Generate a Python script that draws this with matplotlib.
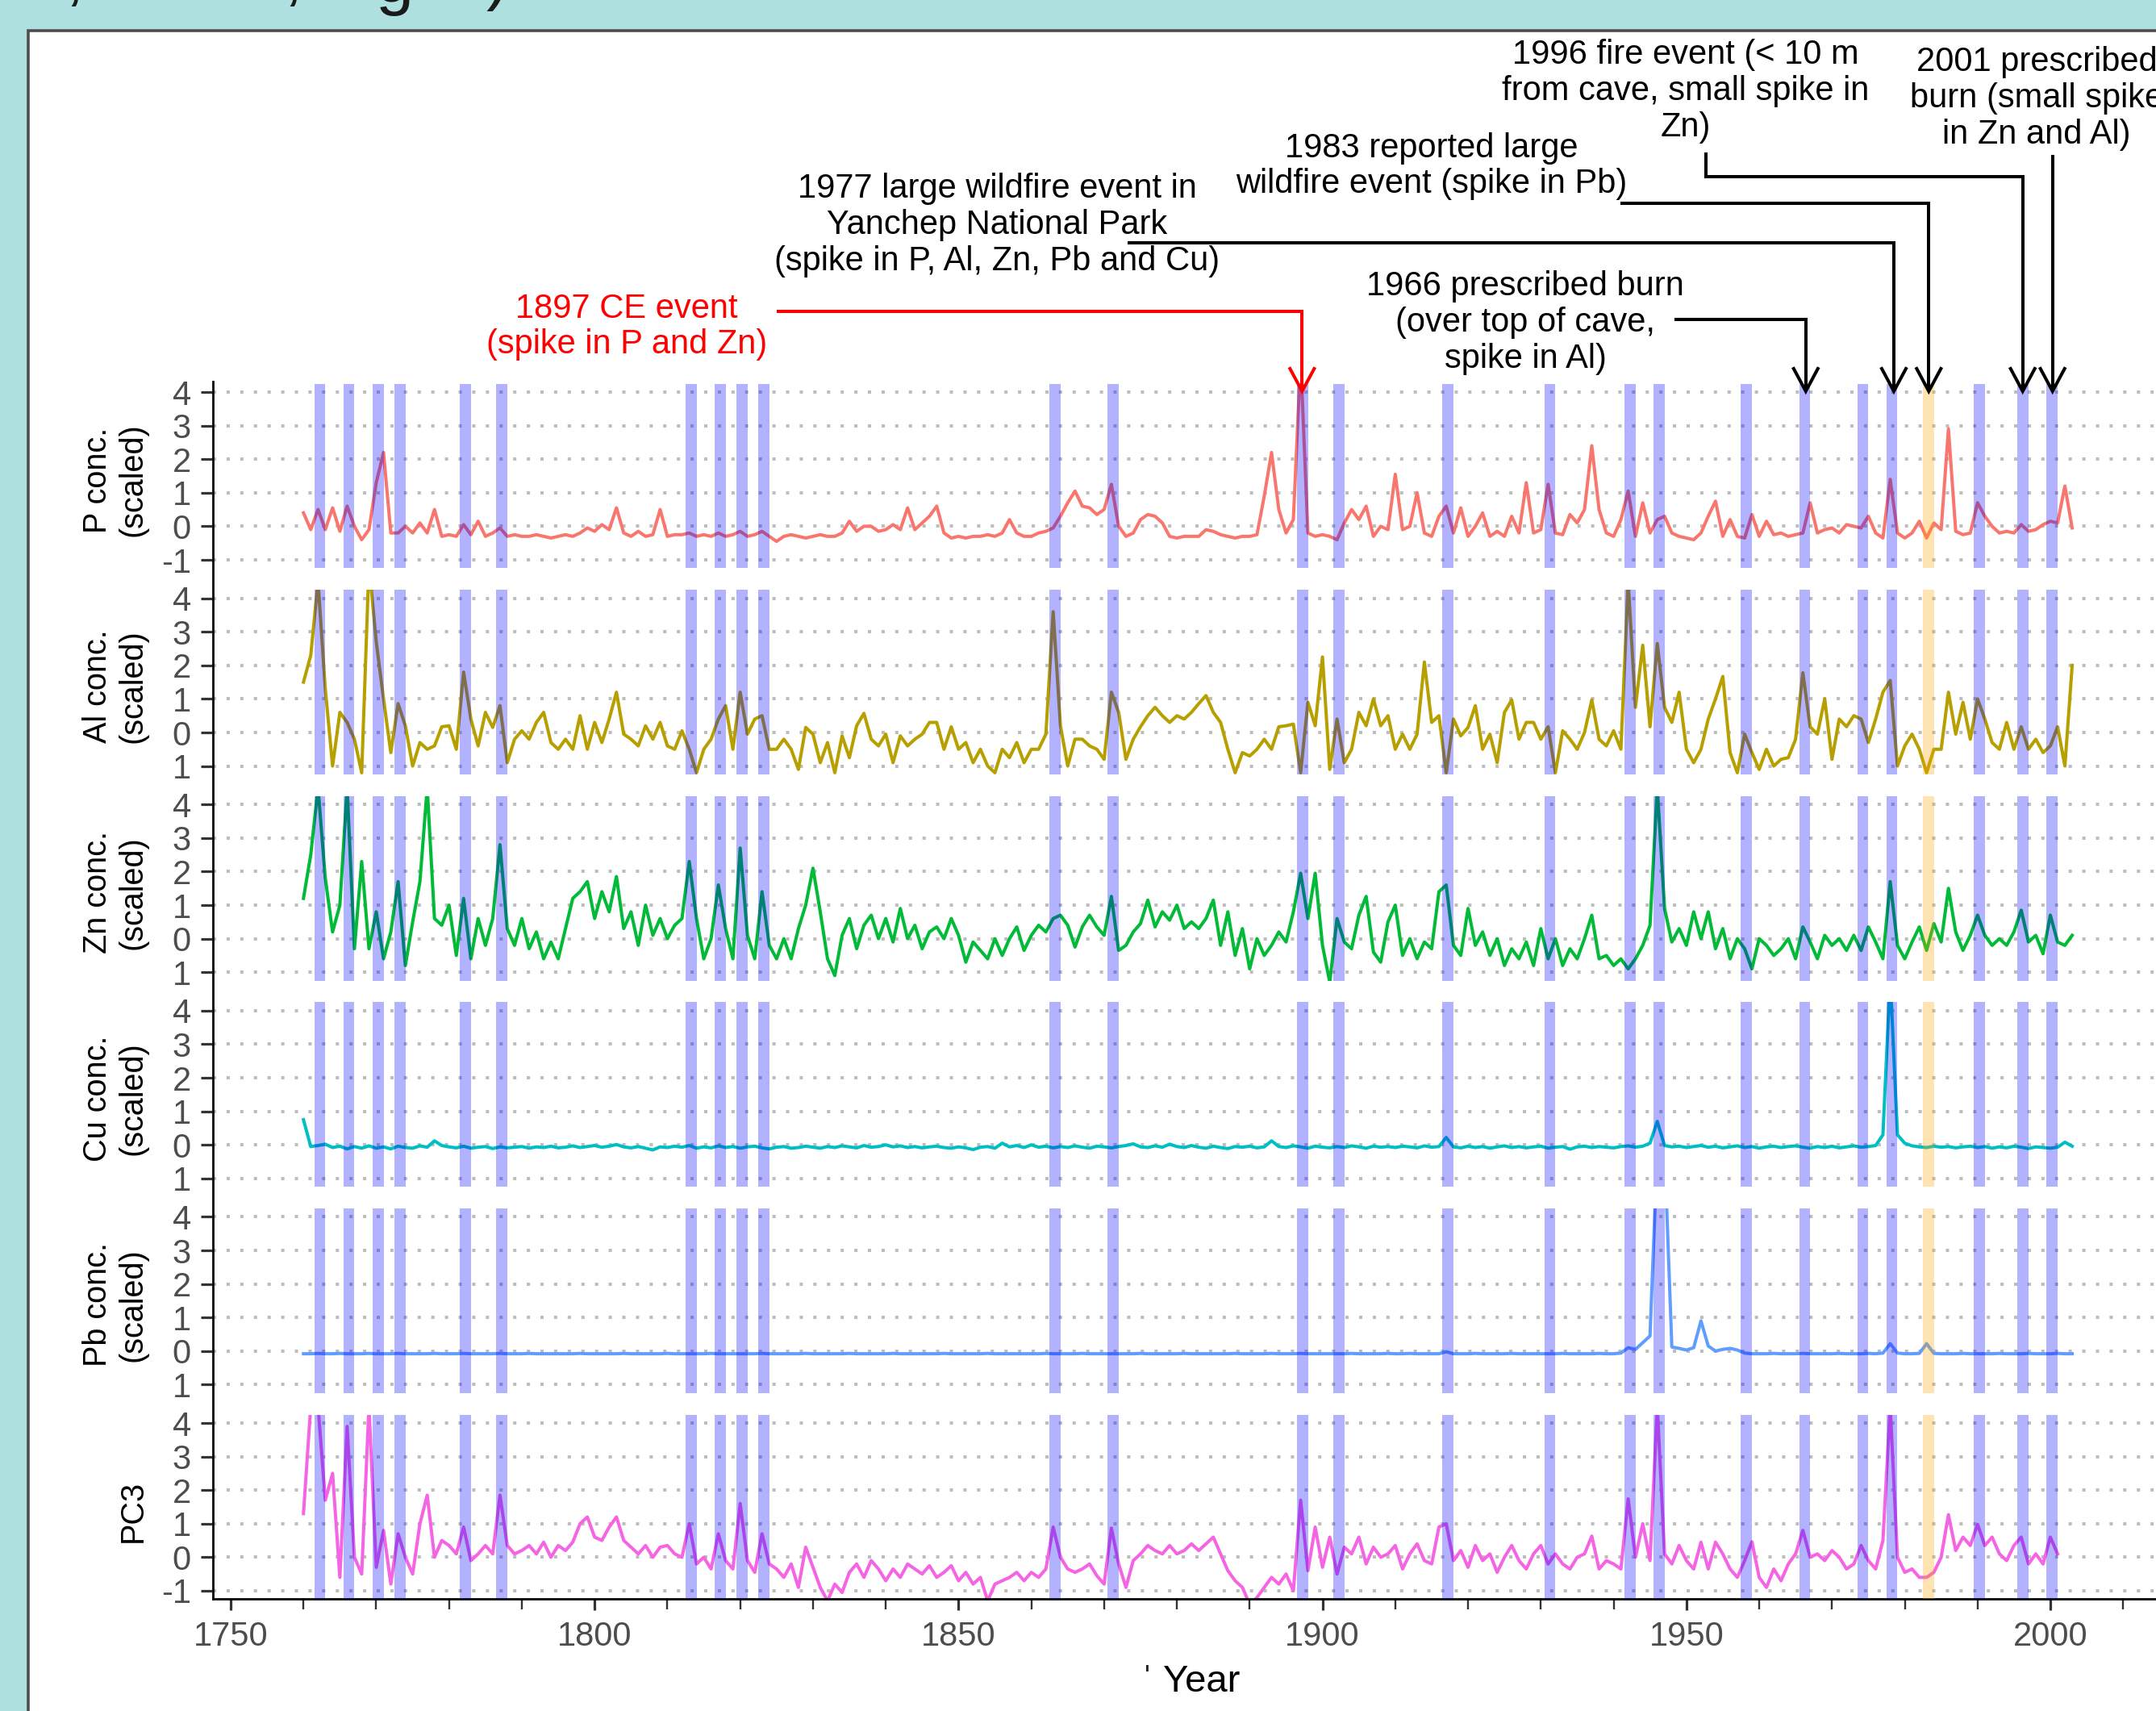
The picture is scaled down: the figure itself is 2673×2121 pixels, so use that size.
import numpy as np
import matplotlib
matplotlib.use("Agg")
import matplotlib.pyplot as plt
from matplotlib.lines import Line2D
from matplotlib.patches import Rectangle
from matplotlib.ticker import MultipleLocator
from matplotlib.transforms import blended_transform_factory

plt.rcParams['font.family'] = ['Liberation Sans', 'DejaVu Sans']

# ---------------- data ----------------
years = list(range(1760, 2004))

p_conc = [
    0.4, -0.1, 0.5, -0.1, 0.55, -0.15, 0.6, 0.0, -0.4, -0.1,
    1.3, 2.2, -0.2, -0.2, 0.0, -0.2, 0.1, -0.2, 0.5, -0.3,
    -0.25, -0.3, 0.05, -0.25, 0.15, -0.3, -0.2, -0.05, -0.3, -0.25,
    -0.3, -0.3, -0.25, -0.3, -0.35, -0.3, -0.25, -0.3, -0.2, -0.05,
    -0.15, 0.05, -0.1, 0.55, -0.2, -0.3, -0.15, -0.3, -0.25, 0.5,
    -0.3, -0.25, -0.25, -0.2, -0.3, -0.25, -0.3, -0.2, -0.3, -0.25,
    -0.15, -0.3, -0.25, -0.15, -0.3, -0.45, -0.3, -0.25, -0.3, -0.35,
    -0.3, -0.25, -0.3, -0.3, -0.2, 0.15, -0.15, 0.0, 0.0, -0.15,
    -0.1, 0.05, -0.1, 0.55, -0.1, 0.1, 0.3, 0.6, -0.2, -0.35,
    -0.3, -0.35, -0.3, -0.3, -0.25, -0.3, -0.2, 0.2, -0.2, -0.3,
    -0.3, -0.2, -0.15, -0.05, 0.3, 0.7, 1.05, 0.6, 0.55, 0.35,
    0.5, 1.25, 0.0, -0.3, -0.2, 0.2, 0.35, 0.3, 0.1, -0.3,
    -0.35, -0.3, -0.3, -0.3, -0.1, -0.15, -0.25, -0.3, -0.35, -0.3,
    -0.3, -0.25, 0.9, 2.2, 0.5, -0.2, 0.2, 5.0, -0.2, -0.3,
    -0.25, -0.3, -0.4, 0.1, 0.5, 0.2, 0.6, -0.3, 0.0, -0.1,
    1.55, -0.1, 0.0, 1.0, -0.2, -0.3, 0.3, 0.6, -0.2, 0.55,
    -0.3, 0.0, 0.4, -0.3, -0.15, -0.3, 0.3, -0.2, 1.3, -0.2,
    -0.1, 1.25, -0.2, -0.25, 0.35, 0.1, 0.5, 2.4, 0.5, -0.2,
    -0.3, 0.2, 1.05, -0.3, 0.7, -0.2, 0.2, 0.3, -0.2, -0.3,
    -0.35, -0.4, -0.2, 0.3, 0.75, -0.3, 0.2, -0.3, -0.35, 0.35,
    -0.3, 0.15, -0.25, -0.2, -0.3, -0.25, -0.2, 0.7, -0.2, -0.1,
    -0.05, -0.2, 0.05, 0.0, -0.05, 0.3, -0.2, -0.35, 1.4, -0.2,
    -0.35, -0.2, 0.15, -0.35, 0.1, -0.1, 2.9, -0.15, -0.25, -0.2,
    0.7, 0.3, 0.0, -0.2, -0.15, -0.2, 0.05, -0.15, -0.1, 0.05,
    0.15, 0.1, 1.2, -0.05,
]

al_conc = [
    1.5, 2.3, 4.5, 1.3, -1.0, 0.6, 0.3, -0.2, -1.2, 5.0,
    2.7, 1.0, -0.6, 0.86, 0.2, -1.0, -0.3, -0.5, -0.4, 0.17,
    0.2, -0.5, 1.8, 0.4, -0.4, 0.6, 0.15, 0.8, -0.9, -0.2,
    0.05, -0.2, 0.3, 0.6, -0.3, -0.5, -0.2, -0.5, 0.5, -0.5,
    0.3, -0.3, 0.4, 1.2, -0.05, -0.2, -0.4, 0.2, -0.2, 0.3,
    -0.4, -0.5, 0.05, -0.5, -1.2, -0.5, -0.2, 0.4, 0.8, -0.5,
    1.2, -0.05, 0.4, 0.5, -0.5, -0.5, -0.2, -0.5, -1.1, 0.15,
    -0.05, -0.9, -0.3, -1.2, -0.1, -0.75, 0.2, 0.57, -0.2, -0.4,
    -0.05, -0.9, -0.1, -0.4, -0.2, -0.05, 0.3, 0.3, -0.5, 0.17,
    -0.5, -0.3, -0.9, -0.5, -1.0, -1.2, -0.5, -0.75, -0.3, -0.9,
    -0.5, -0.5, -0.05, 3.6, 0.2, -1.0, -0.2, -0.2, -0.4, -0.5,
    -0.8, 1.2, 0.6, -0.8, -0.2, 0.17, 0.5, 0.75, 0.5, 0.3,
    0.5, 0.4, 0.6, 0.86, 1.1, 0.6, 0.3, -0.5, -1.2, -0.6,
    -0.7, -0.5, -0.2, -0.5, 0.17, 0.2, 0.25, -1.2, 0.9, 0.2,
    2.25, -1.1, 0.4, -0.9, -0.5, 0.6, 0.2, 1.0, 0.2, 0.5,
    -0.5, -0.05, -0.5, -0.05, 2.1, 0.3, 0.5, -1.2, 0.4, -0.1,
    0.15, 0.8, -0.5, -0.05, -0.9, 0.6, 0.97, -0.2, 0.3, 0.3,
    -0.2, 0.17, -1.2, 0.05, -0.2, -0.5, 0.0, 0.97, -0.2, -0.4,
    0.05, -0.5, 4.5, 0.75, 2.6, 0.17, 2.65, 0.75, 0.3, 1.2,
    -0.5, -0.9, -0.5, 0.4, 1.0, 1.67, -0.6, -1.2, -0.05, -0.6,
    -1.1, -0.5, -1.0, -0.8, -0.75, -0.2, 1.78, 0.17, -0.05, 1.0,
    -0.8, 0.4, 0.17, 0.5, 0.4, -0.3, 0.4, 1.2, 1.55, -1.0,
    -0.4, -0.05, -0.5, -1.2, -0.5, -0.5, 1.2, -0.05, 0.9, -0.2,
    1.0, 0.4, -0.3, -0.5, 0.3, -0.5, 0.17, -0.5, -0.2, -0.6,
    -0.4, 0.17, -1.0, 2.0,
]

zn_conc = [
    1.2, 2.5, 4.5, 1.8, 0.2, 1.0, 4.5, -0.3, 2.3, -0.3,
    0.8, -0.6, 0.2, 1.7, -0.8, 0.5, 1.7, 4.5, 0.6, 0.4,
    1.0, -0.5, 1.2, -0.6, 0.6, -0.2, 0.6, 2.8, 0.3, -0.2,
    0.6, -0.3, 0.2, -0.6, -0.1, -0.6, 0.3, 1.2, 1.4, 1.7,
    0.6, 1.4, 0.8, 1.85, 0.3, 0.8, -0.2, 1.0, 0.1, 0.6,
    0.0, 0.4, 0.6, 2.3, 0.6, -0.6, 0.0, 1.6, 0.3, -0.6,
    2.7, 0.1, -0.6, 1.4, -0.2, -0.6, 0.0, -0.6, 0.3, 1.0,
    2.1, 0.8, -0.6, -1.1, 0.1, 0.6, -0.3, 0.4, 0.7, 0.0,
    0.6, -0.1, 0.9, 0.0, 0.4, -0.3, 0.2, 0.35, 0.0, 0.6,
    0.1, -0.7, -0.1, -0.35, -0.6, 0.0, -0.5, 0.0, 0.35, -0.35,
    0.1, 0.4, 0.2, 0.6, 0.7, 0.4, -0.25, 0.35, 0.7, 0.35,
    0.1, 1.26, -0.35, -0.2, 0.2, 0.45, 1.15, 0.35, 0.8, 0.55,
    1.0, 0.3, 0.5, 0.3, 0.6, 1.15, -0.2, 0.8, -0.5, 0.3,
    -0.9, 0.0, -0.5, -0.2, 0.2, -0.1, 0.8, 1.95, 0.6, 1.95,
    -0.2, -1.3, 0.6, -0.1, -0.3, 0.7, 1.26, -0.4, -0.7, 0.5,
    1.0, -0.5, 0.0, -0.6, -0.1, -0.3, 1.4, 1.6, -0.2, -0.5,
    0.9, -0.2, 0.2, -0.5, 0.0, -0.8, -0.3, -0.6, -0.1, -0.8,
    0.3, -0.6, 0.0, -0.8, -0.3, -0.6, 0.0, 0.7, -0.6, -0.5,
    -0.8, -0.6, -0.9, -0.6, -0.2, 0.4, 4.5, 0.9, -0.1, 0.3,
    -0.2, 0.8, 0.0, 0.8, -0.3, 0.3, -0.6, 0.0, -0.3, -0.9,
    0.0, -0.2, -0.5, -0.3, 0.0, -0.6, 0.35, -0.1, -0.6, 0.1,
    -0.2, 0.0, -0.35, 0.1, -0.35, 0.35, -0.1, -0.6, 1.7, -0.2,
    -0.6, -0.1, 0.35, -0.35, 0.45, -0.1, 1.5, 0.2, -0.35, 0.1,
    0.7, 0.1, -0.2, 0.0, -0.2, 0.2, 0.85, -0.1, 0.1, -0.45,
    0.7, -0.1, -0.2, 0.1,
]

cu_conc = [
    0.75, -0.05, -0.02, 0.02, -0.08, -0.04, -0.12, -0.05, -0.1, -0.03,
    -0.1, -0.06, -0.12, -0.04, -0.08, -0.1, -0.03, -0.07, 0.12, -0.02,
    -0.06, -0.09, -0.04, -0.1, -0.07, -0.05, -0.11, -0.06, -0.09, -0.07,
    -0.05, -0.1, -0.06, -0.08, -0.04, -0.09, -0.07, -0.03, -0.08, -0.05,
    -0.02, -0.07, -0.04, 0.01, -0.06, -0.09, -0.05, -0.1, -0.15, -0.06,
    -0.08, -0.04, -0.07, -0.02, -0.1, -0.06, -0.09, -0.03, -0.08, -0.05,
    -0.1, -0.06, -0.04, -0.09, -0.12, -0.07, -0.05, -0.1, -0.08, -0.04,
    -0.07, -0.1, -0.05, -0.08, -0.03, -0.06, -0.09, -0.02, -0.07, -0.05,
    0.0, -0.06, -0.03, -0.08, -0.05, -0.09, -0.06, -0.04, -0.08, -0.1,
    -0.06, -0.09, -0.14, -0.07, -0.05, -0.1, 0.05, -0.06, -0.02, -0.08,
    0.0, -0.07, -0.04, -0.09, -0.05, -0.08, -0.03, -0.07, -0.1, -0.04,
    -0.06, -0.09, -0.05, -0.02, 0.03, -0.06, -0.08, -0.03, -0.07, 0.02,
    -0.05, -0.08, -0.02, -0.07, -0.1, -0.04, -0.08, -0.11, -0.05, -0.07,
    -0.04, -0.09, -0.06, 0.12, -0.05, -0.08, -0.03, -0.06, -0.1, -0.04,
    -0.07, -0.09, -0.05, -0.08, -0.03, -0.06, -0.1, -0.04, -0.07, -0.05,
    -0.08, -0.04, -0.06, -0.09, -0.03, -0.07, -0.05, 0.22, -0.06, -0.09,
    -0.04, -0.08, -0.05, -0.1, -0.06, -0.03, -0.08, -0.05, -0.09, -0.06,
    -0.04, -0.1, -0.07, -0.05, -0.13, -0.06, -0.04, -0.08, -0.05, -0.07,
    -0.09, -0.05, -0.03, -0.07, -0.04, 0.05, 0.7, -0.02, -0.06, -0.04,
    -0.08, -0.05, -0.02, -0.07, -0.04, -0.09, -0.06, -0.03, -0.08, -0.05,
    -0.1, -0.06, -0.04, -0.08, -0.05, -0.03, -0.07, -0.1, -0.05, -0.08,
    -0.04, -0.09, -0.06, -0.03, -0.07, -0.05, -0.02, 0.3, 5.0, 0.3,
    0.05, -0.03, -0.06, -0.08, -0.04, -0.07, -0.05, -0.09, -0.06, -0.04,
    -0.08, -0.05, -0.1, -0.06, -0.09, -0.04, -0.07, -0.11, -0.06, -0.08,
    -0.1, -0.07, 0.08, -0.04,
]

pb_conc = [
    -0.08, -0.08, -0.07, -0.08, -0.08, -0.07, -0.08, -0.08, -0.08, -0.07,
    -0.08, -0.08, -0.08, -0.07, -0.08, -0.08, -0.08, -0.08, -0.07, -0.08,
    -0.08, -0.08, -0.07, -0.08, -0.08, -0.08, -0.08, -0.07, -0.08, -0.08,
    -0.08, -0.07, -0.08, -0.08, -0.08, -0.08, -0.08, -0.08, -0.07, -0.08,
    -0.08, -0.08, -0.08, -0.08, -0.07, -0.08, -0.08, -0.08, -0.08, -0.08,
    -0.07, -0.08, -0.08, -0.08, -0.08, -0.08, -0.07, -0.08, -0.08, -0.08,
    -0.08, -0.08, -0.08, -0.07, -0.08, -0.08, -0.08, -0.08, -0.08, -0.07,
    -0.08, -0.08, -0.08, -0.08, -0.08, -0.07, -0.08, -0.08, -0.08, -0.08,
    -0.08, -0.07, -0.08, -0.08, -0.08, -0.08, -0.08, -0.08, -0.07, -0.08,
    -0.08, -0.08, -0.08, -0.08, -0.07, -0.08, -0.08, -0.08, -0.08, -0.08,
    -0.08, -0.08, -0.07, -0.08, -0.08, -0.08, -0.08, -0.07, -0.08, -0.08,
    -0.08, -0.08, -0.08, -0.08, -0.08, -0.07, -0.08, -0.08, -0.08, -0.08,
    -0.08, -0.07, -0.08, -0.08, -0.08, -0.08, -0.08, -0.08, -0.07, -0.08,
    -0.08, -0.08, -0.08, -0.07, -0.08, -0.08, -0.08, -0.07, -0.08, -0.08,
    -0.08, -0.08, -0.08, -0.08, -0.07, -0.08, -0.08, -0.08, -0.08, -0.07,
    -0.08, -0.08, -0.07, -0.08, -0.08, -0.08, -0.08, -0.02, -0.08, -0.08,
    -0.08, -0.07, -0.08, -0.08, -0.08, -0.08, -0.07, -0.08, -0.08, -0.08,
    -0.08, -0.08, -0.08, -0.07, -0.08, -0.08, -0.08, -0.08, -0.07, -0.08,
    -0.08, -0.06, 0.1, 0.05, 0.25, 0.45, 6.0, 6.0, 0.12, 0.08,
    0.03, 0.1, 0.9, 0.15, 0.0, 0.05, 0.08, 0.03, -0.06, -0.08,
    -0.08, -0.08, -0.07, -0.08, -0.08, -0.08, -0.07, -0.08, -0.08, -0.08,
    -0.08, -0.07, -0.08, -0.08, -0.08, -0.07, -0.08, -0.06, 0.22, -0.06,
    -0.08, -0.08, -0.07, 0.22, -0.07, -0.08, -0.08, -0.08, -0.07, -0.08,
    -0.08, -0.08, -0.08, -0.07, -0.08, -0.08, -0.08, -0.07, -0.08, -0.08,
    -0.08, -0.07, -0.08, -0.08,
]

pc3 = [
    1.3, 4.5, 4.5, 1.7, 2.5, -0.6, 3.9, 0.0, -0.5, 4.5,
    -0.3, 0.8, -0.8, 0.7, 0.0, -0.5, 1.0, 1.85, 0.0, 0.5,
    0.35, 0.1, 0.9, -0.1, 0.1, 0.35, 0.1, 1.85, 0.35, 0.1,
    0.2, 0.35, 0.1, 0.45, 0.0, 0.35, 0.2, 0.45, 1.0, 1.2,
    0.6, 0.5, 0.9, 1.2, 0.5, 0.3, 0.1, 0.35, 0.0, 0.3,
    0.35, 0.1, 0.0, 1.0, -0.2, 0.0, -0.35, 0.7, -0.1, -0.35,
    1.6, -0.1, -0.45, 0.7, -0.2, -0.35, -0.6, -0.2, -0.9, 0.3,
    -0.3, -0.9, -1.3, -0.8, -1.05, -0.45, -0.2, -0.6, -0.1, -0.35,
    -0.7, -0.35, -0.6, -0.2, -0.35, -0.5, -0.25, -0.6, -0.45, -0.25,
    -0.7, -0.45, -0.8, -0.6, -1.3, -0.8, -0.7, -0.6, -0.45, -0.7,
    -0.45, -0.6, -0.35, 0.9, 0.0, -0.35, -0.45, -0.35, -0.2, -0.55,
    -0.8, 0.87, -0.2, -0.9, -0.1, 0.1, 0.35, 0.2, 0.1, 0.35,
    0.1, 0.2, 0.4, 0.2, 0.4, 0.6, 0.1, -0.4, -0.7, -0.9,
    -1.4, -1.2, -0.9, -0.6, -0.8, -0.5, -1.0, 1.7, -0.4, 0.9,
    -0.3, 0.6, -0.5, 0.3, 0.1, 0.6, -0.2, 0.3, 0.0, 0.1,
    0.35, -0.35, 0.1, 0.4, -0.1, -0.2, 0.9, 1.0, -0.1, 0.2,
    -0.3, 0.35, -0.1, 0.1, -0.45, 0.0, 0.35, -0.1, -0.35, 0.1,
    0.35, -0.2, 0.1, -0.2, -0.35, 0.0, 0.1, 0.63, -0.35, -0.1,
    -0.2, -0.35, 1.74, 0.0, 1.0, -0.1, 4.5, 0.1, -0.2, 0.35,
    -0.1, -0.35, 0.45, -0.35, 0.45, 0.1, -0.35, -0.6, -0.1, 0.46,
    -0.6, -0.9, -0.35, -0.7, -0.2, 0.1, 0.8, 0.0, 0.1, -0.1,
    0.2, 0.0, -0.35, -0.2, 0.35, -0.1, -0.35, 0.5, 4.5, 0.0,
    -0.45, -0.35, -0.6, -0.6, -0.45, 0.0, 1.27, 0.2, 0.6, 0.35,
    0.98, 0.35, 0.6, 0.1, -0.1, 0.35, 0.6, -0.2, 0.1, -0.2,
    0.6, 0.1,
]

event_years = [1762, 1766, 1770, 1773, 1782, 1787, 1813, 1817, 1820, 1823,
               1863, 1871, 1897, 1902, 1917, 1931, 1942, 1946, 1958, 1966,
               1974, 1978, 1990, 1996, 2000]
reported_years = [1983]

panel_series = [p_conc, al_conc, zn_conc, cu_conc, pb_conc, pc3]
panel_labels = ["P conc.\n(scaled)", "Al conc.\n(scaled)", "Zn conc.\n(scaled)",
                "Cu conc.\n(scaled)", "Pb conc.\n(scaled)", "PC3"]
panel_colors = ["#F8766D", "#B79F00", "#00BA38", "#00BFC4", "#619CFF", "#F564E3"]
ytick_vals = [-1, 0, 1, 2, 3, 4]
ytick_text = [["-1", "0", "1", "2", "3", "4"],
              ["1", "0", "1", "2", "3", "4"],
              ["1", "0", "1", "2", "3", "4"],
              ["1", "0", "1", "2", "3", "4"],
              ["1", "0", "1", "2", "3", "4"],
              ["-1", "0", "1", "2", "3", "4"]]
xtick_vals = [1750, 1800, 1850, 1900, 1950, 2000]

# ---------------- layout ----------------
W, H = 2673, 2121
fig = plt.figure(figsize=(W / 100, H / 100), dpi=100, facecolor="#ADE0DF")


def fx(px):
    return px / W


def fy(py):
    return 1 - py / H


# white board with dark border
fig.add_artist(Rectangle((fx(35), fy(2400)), fx(3000), (2400 - 38) / H,
                         transform=fig.transFigure, facecolor="white",
                         edgecolor="#4D4D4D", lw=2.6, zorder=-5))

AX_L, AX_R = 264, 2716
PXY = 9.024
XMIN = 1750 - (286 - AX_L) / PXY
XMAX = XMIN + (AX_R - AX_L) / PXY
TOP0, STEP, PH = 475.6, 255.6, 228.8

axes = []
for i, (vals, lab, col) in enumerate(zip(panel_series, panel_labels, panel_colors)):
    top = TOP0 + i * STEP
    ax = fig.add_axes([fx(AX_L), fy(top + PH), (AX_R - AX_L) / W, PH / H])
    ax.set_facecolor("none")
    ax.set_xlim(XMIN, XMAX)
    ax.set_ylim(-1.25, 4.25)
    for s in ax.spines.values():
        s.set_visible(False)
    ax.set_yticks(ytick_vals)
    ax.set_yticklabels(ytick_text[i])
    ax.tick_params(axis="y", length=10.5, width=2.3, color="#333333",
                   labelsize=30, labelcolor="#4D4D4D", pad=9)
    for v in ytick_vals:
        ax.axhline(v, color="#BDBDBD", lw=2.9, ls=(0, (1, 3.2)), zorder=0.5)
    ax.plot(years[:len(vals)], vals, color=col, lw=2.9, zorder=2,
            solid_joinstyle="round")
    for e in event_years:
        ax.axvspan(e - 0.5, e + 1.0, color=(0, 0, 1), alpha=0.3, lw=0, zorder=3)
    for e in reported_years:
        ax.axvspan(e - 0.5, e + 1.0, color="#FFA500", alpha=0.3, lw=0, zorder=3)
    if i < 5:
        ax.tick_params(axis="x", bottom=False, labelbottom=False)
    else:
        ax.spines["bottom"].set_visible(True)
        ax.spines["bottom"].set_color("black")
        ax.spines["bottom"].set_linewidth(2.0)
        ax.set_xticks(xtick_vals)
        ax.set_xticklabels([str(v) for v in xtick_vals])
        ax.xaxis.set_minor_locator(MultipleLocator(10))
        ax.tick_params(axis="x", which="major", length=10, width=2.3,
                       color="#333333", labelsize=30, labelcolor="#4D4D4D", pad=9)
        ax.tick_params(axis="x", which="minor", length=9, width=1.7, color="#333333")
    fig.text(fx(184), fy(top + PH / 2 + 5), lab, rotation=90, ha="right",
             va="center", multialignment="center", fontsize=28.5,
             color="black", linespacing=1.2)
    axes.append(ax)

# continuous left axis line
fig.add_artist(Line2D([fx(AX_L), fx(AX_L)], [fy(TOP0 - 3), fy(TOP0 + 5 * STEP + PH)],
                      transform=fig.transFigure, color="black", lw=2.0, zorder=5))

# x axis title
fig.text(fx(1490), fy(2097), "Year", ha="center", va="baseline", fontsize=34, color="black")
fig.text(fx(1422), fy(2090), "'", ha="center", va="baseline", fontsize=26, color="#222222")

# cropped title fragments at the very top
for ch, xpx, base in [(",", 92, -3), (",", 363, -3), ("g", 489, 2.5), (")", 617, -4)]:
    fig.text(fx(xpx), fy(base), ch, ha="center", va="baseline", fontsize=61,
             color="#1A1A1A")

# ---------------- annotations ----------------
trans = blended_transform_factory(axes[0].transData, fig.transFigure)
TIP = 485
HW = 15 / PXY
HL = 28

annotations = [
    # text, text_x (year), text_y (px), color, path (years, px), tip year
    ("1897 CE event\n(spike in P and Zn)", 1804.4, 405, "red",
     [(1825.0, 386), (1897.2, 386)], 1897.2),
    ("1977 large wildfire event in\nYanchep National Park\n(spike in P, Al, Zn, Pb and Cu)",
     1855.3, 279, "black", [(1873.2, 301), (1978.5, 301)], 1978.5),
    ("1983 reported large\nwildfire event (spike in Pb)", 1915.0, 206, "black",
     [(1940.9, 252), (1983.3, 252)], 1983.3),
    ("1996 fire event (< 10 m\nfrom cave, small spike in\nZn)", 1949.9, 113, "black",
     [(1952.7, 189), (1952.7, 219), (1996.2, 219)], 1996.2),
    ("2001 prescribed\nburn (small spike\nin Zn and Al)", 1998.1, 122, "black",
     [(2000.3, 192)], 2000.3),
    ("1966 prescribed burn\n(over top of cave,\nspike in Al)", 1927.9, 400, "black",
     [(1948.4, 396), (1966.4, 396)], 1966.4),
]

for txt, tx, typx, col, path, tipx in annotations:
    fig.text(tx, fy(typx), txt, transform=trans, ha="center", va="center",
             fontsize=30, color=col, linespacing=1.15, multialignment="center")
    xs = [p[0] for p in path] + [tipx]
    ys = [fy(p[1]) for p in path] + [fy(TIP)]
    fig.add_artist(Line2D(xs, ys, transform=trans, color=col, lw=2.9,
                          solid_joinstyle="miter", solid_capstyle="butt", zorder=6))
    fig.add_artist(Line2D([tipx - HW, tipx, tipx + HW],
                          [fy(TIP - HL), fy(TIP), fy(TIP - HL)],
                          transform=trans, color=col, lw=2.9,
                          solid_joinstyle="miter", zorder=6))

fig.savefig("out.png", dpi=100, facecolor=fig.get_facecolor())
